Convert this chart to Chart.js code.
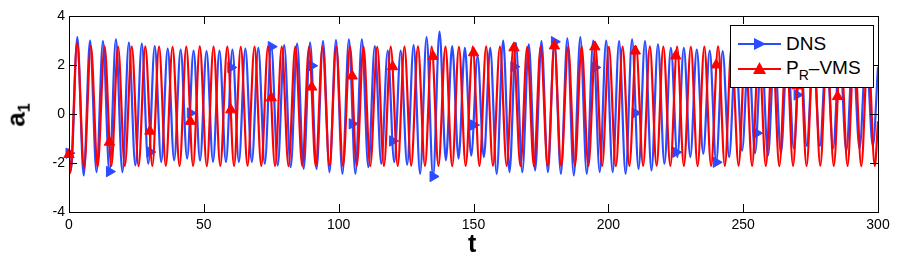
<!DOCTYPE html>
<html>
<head>
<meta charset="utf-8">
<script src="https://cdn.jsdelivr.net/npm/chart.js@4.4.1/dist/chart.umd.min.js"></script>
<style>
  html, body { margin: 0; padding: 0; background: #fff; }
  #wrap { position: relative; width: 897px; height: 260px; overflow: hidden; }
  canvas { position: absolute; left: 0; top: 0; }
  .ttl { position: absolute; font-family: "Liberation Sans", Arial, sans-serif; font-weight: bold; color: #000; line-height: 1; white-space: nowrap; }
  #xttl { left: 468px; top: 231px; font-size: 25px; }
  #yttl { left: 6px; top: 100px; font-size: 26px; transform: rotate(-90deg); transform-origin: 50% 50%; }
  #yttl sub { font-size: 16px; vertical-align: -5px; }
  #legend { position: absolute; left: 730px; top: 25px; width: 142px; height: 61px; background: #fff;
            border: 1px solid #000; font-family: "Liberation Sans", Arial, sans-serif; font-size: 19px; color: #000; }
  .row { position: absolute; left: 7px; height: 20px; }
  .row svg { position: absolute; left: 0; top: 0; }
  .row span { position: absolute; left: 48px; top: 0; line-height: 20px; white-space: nowrap; }
  .row sub { font-size: 14px; vertical-align: -6px; }
</style>
</head>
<body>
<div id="wrap">
  <canvas id="c" width="897" height="260"></canvas>
  <div class="ttl" id="xttl">t</div>
  <div class="ttl" id="yttl">a<sub>1</sub></div>
  <div id="legend">
    <div class="row" style="top:8px">
      <svg width="44" height="20"><line x1="0" y1="10" x2="43" y2="10" stroke="#2a4bff" stroke-width="2"/><polygon points="16,4 28,10 16,16" fill="#2a4bff"/></svg>
      <span>DNS</span>
    </div>
    <div class="row" style="top:32px">
      <svg width="44" height="20"><line x1="0" y1="11" x2="43" y2="11" stroke="#f00" stroke-width="2"/><polygon points="15,16 21.5,4 28,16" fill="#f00"/></svg>
      <span>P<sub>R</sub>&#8211;VMS</span>
    </div>
  </div>
</div>
<script>
(function () {
  'use strict';

  // ---------------------------------------------------------------------------
  // Data (extrema of each oscillation + marker samples)
  // ---------------------------------------------------------------------------

  var BLUE = '#2a4bff';
  var RED  = '#ff0000';

  var markerT = [0, 15, 30, 45, 60, 75, 90, 105, 120, 135, 150, 165, 180, 195, 210, 225, 240, 255, 270, 285];
  var dnsMarkers = [-1.6, -2.35, -1.55, 0.04, 1.9, 2.75, 1.97, -0.4, -1.1, -2.55,
                    -0.45, 1.93, 2.95, 1.9, 0.04, -1.56, -1.97, -0.78, 0.78, 2.1];
  var vmsMarkers = [-1.65, -1.15, -0.7, -0.3, 0.17, 0.66, 1.1, 1.55, 1.93, 2.35,
                    2.5, 2.7, 2.78, 2.74, 2.57, 2.37, 2.0, 1.6, 1.15, 0.71];

  // DNS (blue)
  var dnsEnds = [[0, -1.6], [300, 1.93]];
  var dnsPeakT = [3.1, 7.8, 12.6, 17.4, 22.2, 27.0, 31.8, 36.6, 41.4, 46.2,
                  51.0, 55.8, 60.6, 65.4, 70.2, 75.0, 79.8, 84.6, 89.4, 94.2,
                  99.0, 103.8, 108.6, 113.4, 118.2, 123.0, 127.8, 132.6, 137.4, 142.1,
                  146.8, 151.5, 156.2, 161.0, 165.7, 170.5, 175.2, 180.0, 184.8, 189.6,
                  194.4, 199.2, 204.0, 208.8, 213.6, 218.4, 223.2, 228.0, 232.8, 237.6,
                  242.4, 247.2, 252.0, 256.8, 261.6, 266.4, 271.2, 276.0, 280.9, 285.8,
                  290.7, 295.6];
  var dnsPeakY = [3.14, 3.0, 2.98, 3.05, 2.91, 2.87, 2.77, 2.67, 2.63, 2.59,
                  2.57, 2.59, 2.63, 2.67, 2.7, 2.78, 2.81, 2.87, 2.91, 2.98,
                  3.02, 3.05, 3.05, 2.77, 2.59, 2.59, 2.81, 3.14, 3.36, 2.77,
                  2.7, 2.36, 2.7, 3.0, 2.9, 2.84, 2.98, 3.0, 3.09, 3.14,
                  3.0, 3.0, 2.98, 3.05, 2.98, 2.84, 2.7, 2.7, 2.63, 2.59,
                  2.57, 2.6, 2.6, 2.65, 2.7, 2.7, 2.65, 2.6, 2.6, 2.6,
                  2.55, 2.55];
  var dnsTroughT = [0.7, 5.45, 10.2, 15.0, 19.8, 24.6, 29.4, 34.2, 39.0, 43.8,
                    48.6, 53.4, 58.2, 63.0, 67.8, 72.6, 77.4, 82.2, 87.0, 91.8,
                    96.6, 101.4, 106.2, 111.0, 115.8, 120.6, 125.4, 130.2, 135.0, 139.75,
                    144.45, 149.15, 153.85, 158.6, 163.35, 168.1, 172.85, 177.6, 182.4, 187.2,
                    192.0, 196.8, 201.6, 206.4, 211.2, 216.0, 220.8, 225.6, 230.4, 235.2,
                    240.0, 244.8, 249.6, 254.4, 259.2, 264.0, 268.8, 273.6, 278.45, 283.35,
                    288.25, 293.15, 298.1];
  var dnsTroughY = [-2.3, -2.51, -2.37, -2.37, -2.37, -2.1, -2.03, -1.96, -1.89, -1.82,
                    -1.9, -1.95, -1.96, -1.96, -1.96, -2.03, -2.1, -2.17, -2.24, -2.24,
                    -2.37, -2.44, -2.44, -2.17, -2.03, -1.96, -2.07, -2.44, -2.58, -1.89,
                    -1.82, -1.7, -1.76, -2.44, -2.37, -2.37, -2.3, -2.37, -2.44, -2.51,
                    -2.44, -2.37, -2.37, -2.44, -2.24, -2.3, -2.03, -1.76, -1.76, -1.62,
                    -1.97, -1.76, -1.5, -1.6, -1.7, -1.6, -1.4, -1.3, -1.3, -1.4,
                    -1.5, -1.4, -1.3];

  // P_R-VMS (red)
  var vmsEnds = [[0, -1.65], [300, -0.3]];
  var vmsPeakT = [3.0, 8.1, 13.2, 18.2, 23.3, 28.3, 33.4, 38.4, 43.5, 48.5,
                  53.6, 58.7, 63.7, 68.8, 73.8, 78.9, 83.9, 89.0, 94.0, 99.1,
                  104.2, 109.2, 114.3, 119.3, 124.4, 129.4, 134.5, 139.6, 144.6, 149.7,
                  154.7, 159.8, 164.8, 169.9, 174.9, 180.0, 185.1, 190.1, 195.2, 200.2,
                  205.3, 210.3, 215.4, 220.4, 225.5, 230.6, 235.6, 240.7, 245.7, 250.8,
                  255.8, 260.9, 266.0, 271.0, 276.1, 281.1, 286.2, 291.2, 296.3];
  var vmsPeakY = [2.9, 2.78, 2.76, 2.75, 2.75, 2.76, 2.75, 2.74, 2.75, 2.76,
                  2.75, 2.75, 2.74, 2.75, 2.76, 2.75, 2.75, 2.74, 2.75, 2.75,
                  2.76, 2.75, 2.74, 2.75, 2.75, 2.76, 2.75, 2.75, 2.74, 2.75,
                  2.76, 2.75, 2.75, 2.74, 2.75, 2.78, 2.75, 2.76, 2.75, 2.74,
                  2.75, 2.75, 2.76, 2.75, 2.75, 2.74, 2.75, 2.76, 2.75, 2.75,
                  2.74, 2.75, 2.75, 2.76, 2.75, 2.74, 2.75, 2.75, 2.75];
  var vmsTroughT = [0.5, 5.6, 10.6, 15.7, 20.7, 25.8, 30.9, 35.9, 41.0, 46.0,
                    51.1, 56.1, 61.2, 66.2, 71.3, 76.4, 81.4, 86.5, 91.5, 96.6,
                    101.6, 106.7, 111.7, 116.8, 121.9, 126.9, 132.0, 137.0, 142.1, 147.1,
                    152.2, 157.2, 162.3, 167.4, 172.4, 177.5, 182.5, 187.6, 192.6, 197.7,
                    202.8, 207.8, 212.9, 217.9, 223.0, 228.0, 233.1, 238.1, 243.2, 248.3,
                    253.3, 258.4, 263.4, 268.5, 273.5, 278.6, 283.6, 288.7, 293.8, 298.8];
  var vmsTroughY = [-2.4, -2.2, -2.15, -2.12, -2.12, -2.13, -2.12, -2.11, -2.12, -2.12,
                    -2.13, -2.12, -2.12, -2.11, -2.12, -2.12, -2.13, -2.12, -2.12, -2.11,
                    -2.12, -2.12, -2.13, -2.12, -2.12, -2.11, -2.12, -2.12, -2.13, -2.12,
                    -2.12, -2.11, -2.12, -2.12, -2.13, -2.12, -2.12, -2.11, -2.12, -2.12,
                    -2.13, -2.12, -2.12, -2.11, -2.12, -2.12, -2.13, -2.12, -2.12, -2.11,
                    -2.12, -2.12, -2.13, -2.12, -2.12, -2.11, -2.12, -2.12, -2.13, -2.12];

  var xTicks = [0, 50, 100, 150, 200, 250, 300];
  var yTicks = [-4, -2, 0, 2, 4];

  // ---------------------------------------------------------------------------
  // Utilities
  // ---------------------------------------------------------------------------

  function pts(ts, ys) {
    return ts.map(function (t, i) { return { x: t, y: ys[i] }; });
  }

  function curve(ends, pT, pY, tT, tY) {
    var all = pts(pT, pY).concat(pts(tT, tY));
    ends.forEach(function (e) { all.push({ x: e[0], y: e[1] }); });
    return all.sort(function (a, b) { return a.x - b.x; });
  }

  var FONT = '"Liberation Sans", Arial, sans-serif';

  // Matlab style box with inward ticks on all four sides
  var framePlugin = {
    id: 'frame',
    afterDatasetsDraw: function (chart) {
      var ctx = chart.ctx, a = chart.chartArea;
      var sx = chart.scales.x, sy = chart.scales.y;
      var L = 8;
      ctx.save();
      ctx.strokeStyle = '#000';
      ctx.lineWidth = 1;
      ctx.beginPath();
      xTicks.forEach(function (v) {
        var px = Math.round(sx.getPixelForValue(v)) + 0.5;
        ctx.moveTo(px, a.bottom); ctx.lineTo(px, a.bottom - L);
        ctx.moveTo(px, a.top);    ctx.lineTo(px, a.top + L);
      });
      yTicks.forEach(function (v) {
        var py = Math.round(sy.getPixelForValue(v)) + 0.5;
        ctx.moveTo(a.left, py);  ctx.lineTo(a.left + L, py);
        ctx.moveTo(a.right, py); ctx.lineTo(a.right - L, py);
      });
      ctx.stroke();
      ctx.strokeRect(Math.round(a.left) + 0.5, Math.round(a.top) + 0.5,
                     Math.round(a.right - a.left), Math.round(a.bottom - a.top));
      ctx.restore();
    }
  };

  new Chart(document.getElementById('c'), {
    type: 'line',
    data: {
      datasets: [
        {
          label: 'P_R-VMS markers',
          data: pts(markerT, vmsMarkers),
          showLine: false,
          clip: false,
          pointStyle: 'triangle',
          pointRadius: 6,
          backgroundColor: RED,
          borderColor: RED,
          borderWidth: 1,
          order: 0
        },
        {
          label: 'P_R-VMS',
          data: curve(vmsEnds, vmsPeakT, vmsPeakY, vmsTroughT, vmsTroughY),
          borderColor: RED,
          borderWidth: 2.2,
          pointRadius: 0,
          cubicInterpolationMode: 'monotone',
          order: 1
        },
        {
          label: 'DNS markers',
          data: pts(markerT, dnsMarkers),
          showLine: false,
          clip: false,
          pointStyle: 'triangle',
          rotation: 90,
          pointRadius: 6,
          backgroundColor: BLUE,
          borderColor: BLUE,
          borderWidth: 1,
          order: 2
        },
        {
          label: 'DNS',
          data: curve(dnsEnds, dnsPeakT, dnsPeakY, dnsTroughT, dnsTroughY),
          borderColor: BLUE,
          borderWidth: 2.2,
          pointRadius: 0,
          cubicInterpolationMode: 'monotone',
          order: 3
        }
      ]
    },
    options: {
      responsive: false,
      animation: false,
      devicePixelRatio: 1,
      layout: { padding: { left: 0, right: 19, top: 16, bottom: 0 } },
      plugins: { legend: { display: false }, tooltip: { enabled: false } },
      scales: {
        x: {
          type: 'linear',
          min: 0, max: 300,
          afterFit: function (s) { s.height = 48; },
          afterBuildTicks: function (s) { s.ticks = xTicks.map(function (v) { return { value: v }; }); },
          grid: { display: false, drawTicks: false },
          border: { display: false },
          ticks: { color: '#000', padding: 5, maxRotation: 0, font: { family: FONT, size: 14 } }
        },
        y: {
          min: -4, max: 4,
          afterFit: function (s) { s.width = 69; },
          afterBuildTicks: function (s) { s.ticks = yTicks.map(function (v) { return { value: v }; }); },
          grid: { display: false, drawTicks: false },
          border: { display: false },
          ticks: { color: '#000', padding: 4, font: { family: FONT, size: 14 } }
        }
      }
    },
    plugins: [framePlugin]
  });
})();
</script>
</body>
</html>
